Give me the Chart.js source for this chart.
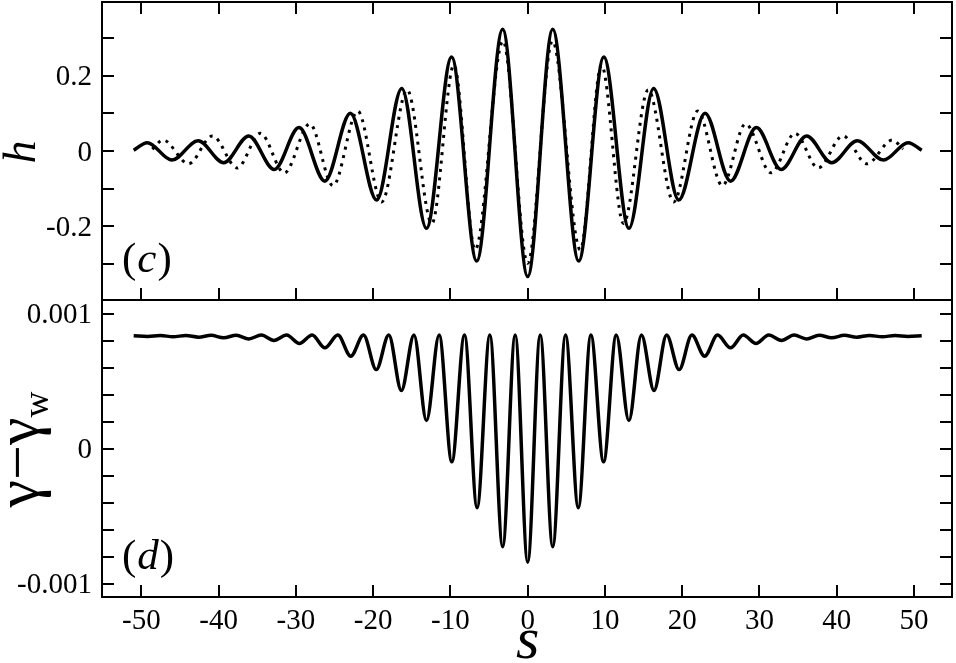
<!DOCTYPE html>
<html>
<head>
<meta charset="utf-8">
<script src="https://cdn.jsdelivr.net/npm/chart.js@4/dist/chart.umd.min.js"></script>
<style>
  html, body { margin: 0; padding: 0; background: #fff; }
  #wrap { position: relative; width: 956px; height: 663px; }
  #wrap canvas { position: absolute; left: 0; top: 0; }
</style>
</head>
<body>
<div id="wrap">
  <canvas id="panelC" width="956" height="663"></canvas>
  <canvas id="panelD" width="956" height="663"></canvas>
</div>
<script>
/* two stacked panels: h(s) with solid + dotted curves, and gamma - gamma_w */

// panel (c): solid curve, extrema
var sSolid = [-51, -49.25, -46.05, -42.65, -39.35, -36.1, -32.8, -29.6, -26.25, -22.95, -19.55, -16.3, -13.1, -9.85, -6.6, -3.24,
  0, 3.24, 6.6, 9.85, 13.1, 16.3, 19.55, 22.95, 26.25, 29.6, 32.8, 36.1, 39.35, 42.65, 46.05, 49.25, 51];
var hSolid = [0.002, 0.022, -0.024, 0.027, -0.031, 0.040, -0.049, 0.062, -0.080, 0.100, -0.130, 0.166, -0.205, 0.249, -0.292, 0.323,
  -0.333, 0.323, -0.292, 0.249, -0.205, 0.166, -0.130, 0.100, -0.080, 0.062, -0.049, 0.040, -0.031, 0.027, -0.024, 0.022, 0.002];

// panel (c): dotted curve
var sDotted = [-48.6, -47.2, -43.9, -40.8, -37.6, -34.6, -31.5, -28.2, -25.2, -22.0, -18.9, -15.6, -12.4, -9.55, -6.8, -3.2,
  0, 3.2, 6.8, 9.55, 12.4, 15.6, 18.9, 22.0, 25.2, 28.2, 31.5, 34.6, 37.6, 40.8, 43.9, 47.2, 48.6];
var hDotted = [0.005, 0.029, -0.034, 0.040, -0.045, 0.047, -0.058, 0.072, -0.092, 0.106, -0.135, 0.162, -0.192, 0.228, -0.262, 0.292,
  -0.298, 0.292, -0.262, 0.228, -0.192, 0.162, -0.135, 0.106, -0.092, 0.072, -0.058, 0.047, -0.045, 0.040, -0.034, 0.029, 0.005];

// panel (d): gamma - gamma_w
var sGamma = [-51, -49.2, -47.55, -45.9, -44.25, -42.6, -40.98, -39.35, -37.72, -36.1, -34.48, -32.85, -31.2, -29.55, -27.9,
  -26.25, -24.58, -22.9, -21.25, -19.6, -17.98, -16.35, -14.72, -13.1, -11.46, -9.82, -8.18, -6.55, -4.9, -3.24, -1.62,
  0, 1.62, 3.24, 4.9, 6.55, 8.18, 9.82, 11.46, 13.1, 14.72, 16.35, 17.98, 19.6, 21.25, 22.9, 24.58, 26.25,
  27.9, 29.55, 31.2, 32.85, 34.48, 36.1, 37.72, 39.35, 40.98, 42.6, 44.25, 45.9, 47.55, 49.2, 51];
var gGamma = [0.000835, 0.00083, 0.000837, 0.000828, 0.000837, 0.000825, 0.000838, 0.00082, 0.000839, 0.000812, 0.00084, 0.0008,
  0.00084, 0.000778, 0.00084, 0.000746, 0.00084, 0.000684, 0.00084, 0.000585, 0.00084, 0.00043, 0.00084, 0.000207, 0.00084,
  -0.0000988, 0.00084, -0.000439, 0.00084, -0.000728, 0.00084,
  -0.000842, 0.00084, -0.000728, 0.00084, -0.000439, 0.00084, -0.0000988, 0.00084, 0.000207, 0.00084, 0.00043, 0.00084,
  0.000585, 0.00084, 0.000684, 0.00084, 0.000746, 0.00084, 0.000778, 0.00084, 0.0008, 0.00084, 0.000812, 0.000839, 0.00082,
  0.000838, 0.000825, 0.000837, 0.000828, 0.000837, 0.00083, 0.000835];

// axes
var xTicks = [-50, -40, -30, -20, -10, 0, 10, 20, 30, 40, 50];
var hTicks = [-0.3, -0.2, -0.1, 0, 0.1, 0.2, 0.3];
var hLabels = [[0.2, "0.2"], [0, "0"], [-0.2, "-0.2"]];
var gTicks = [-0.001, -0.0008, -0.0006, -0.0004, -0.0002, 0, 0.0002, 0.0004, 0.0006, 0.0008, 0.001];
var gLabels = [[0.001, "0.001"], [0, "0"], [-0.001, "-0.001"]];

var SERIF = '"Liberation Serif", "Times New Roman", serif';
var TICK = 12;

function points(xs, ys) {
  return xs.map(function (x, i) { return { x: x, y: ys[i] }; });
}

function drawPanelLabel(ctx, letter, x, base) {
  ctx.font = "43px " + SERIF;
  ctx.fillText("(", x, base);
  var w = ctx.measureText("(").width;
  ctx.font = "italic 43px " + SERIF;
  ctx.fillText(letter, x + w + 1, base);
  w += ctx.measureText(letter).width + 2;
  ctx.font = "43px " + SERIF;
  ctx.fillText(")", x + w, base);
}

var framePlugin = {
  id: "frame",
  afterDraw: function (chart, args, o) {
    var ctx = chart.ctx, a = chart.chartArea, xs = chart.scales.x, ys = chart.scales.y;
    ctx.save();
    ctx.strokeStyle = "#000";
    ctx.fillStyle = "#000";
    ctx.lineWidth = 2;
    ctx.strokeRect(a.left, a.top, a.right - a.left, a.bottom - a.top);
    ctx.beginPath();
    xTicks.forEach(function (v) {
      var px = Math.round(xs.getPixelForValue(v));
      if (o.topTicks) { ctx.moveTo(px, a.top); ctx.lineTo(px, a.top + TICK); }
      ctx.moveTo(px, a.bottom); ctx.lineTo(px, a.bottom - TICK);
    });
    o.yTicks.forEach(function (v) {
      var py = Math.round(ys.getPixelForValue(v));
      ctx.moveTo(a.left, py); ctx.lineTo(a.left + TICK, py);
      ctx.moveTo(a.right, py); ctx.lineTo(a.right - TICK, py);
    });
    ctx.stroke();

    ctx.font = "29px " + SERIF;
    ctx.textAlign = "right";
    ctx.textBaseline = "middle";
    o.yLabels.forEach(function (l) {
      ctx.fillText(l[1], a.left - 10, ys.getPixelForValue(l[0]) + 2);
    });
    if (o.xLabels) {
      ctx.textAlign = "center";
      ctx.textBaseline = "alphabetic";
      xTicks.forEach(function (v) {
        ctx.fillText(String(v), xs.getPixelForValue(v), 629);
      });
      ctx.font = "italic 60px " + SERIF;
      ctx.fillText("s", xs.getPixelForValue(0), 658);
    }

    ctx.textAlign = "left";
    ctx.textBaseline = "alphabetic";
    drawPanelLabel(ctx, o.letter, 122, a.bottom - o.letterLift);

    // rotated y-axis title
    ctx.save();
    ctx.translate(o.titleX, (a.top + a.bottom) / 2 + 1);
    ctx.rotate(-Math.PI / 2);
    if (o.letter === "c") {
      ctx.font = "italic 46px " + SERIF;
      ctx.textAlign = "center";
      ctx.fillText("h", 0, 0);
    } else {
      ctx.font = "62px " + SERIF;
      var main = "\u03b3\u2212\u03b3";
      var mw = ctx.measureText(main).width;
      ctx.font = "36px " + SERIF;
      var sw = ctx.measureText("w").width;
      var x0 = -(mw + sw) / 2;
      ctx.font = "62px " + SERIF;
      ctx.fillText(main, x0, 0);
      ctx.font = "36px " + SERIF;
      ctx.fillText("w", x0 + mw, 10);
    }
    ctx.restore();
    ctx.restore();
  }
};

function baseOptions(padTop, padBottom, yMin, yMax, frame) {
  return {
    responsive: false,
    animation: false,
    events: [],
    layout: { padding: { left: 102, right: 4, top: padTop, bottom: padBottom } },
    plugins: { legend: { display: false }, tooltip: { enabled: false }, frame: frame },
    scales: {
      x: { type: "linear", min: -55.1, max: 54.92, display: false },
      y: { type: "linear", min: yMin, max: yMax, display: false }
    }
  };
}

new Chart(document.getElementById("panelC"), {
  type: "line",
  data: {
    datasets: [{
      data: points(sSolid, hSolid),
      borderColor: "#000",
      borderWidth: 3.5,
      pointRadius: 0,
      cubicInterpolationMode: "monotone"
    }, {
      data: points(sDotted, hDotted),
      borderColor: "#000",
      borderWidth: 3,
      borderDash: [3, 5.5],
      pointRadius: 0,
      cubicInterpolationMode: "monotone"
    }]
  },
  options: baseOptions(2, 363, -0.3952, 0.3952,
    { topTicks: true, yTicks: hTicks, yLabels: hLabels, xLabels: false, letter: "c", letterLift: 28, titleX: 35 }),
  plugins: [framePlugin]
});

new Chart(document.getElementById("panelD"), {
  type: "line",
  data: {
    datasets: [{
      data: points(sGamma, gGamma),
      borderColor: "#000",
      borderWidth: 3.5,
      pointRadius: 0,
      cubicInterpolationMode: "monotone"
    }]
  },
  options: baseOptions(300, 66, -0.0011, 0.0011,
    { topTicks: false, yTicks: gTicks, yLabels: gLabels, xLabels: true, letter: "d", letterLift: 28, titleX: 38 }),
  plugins: [framePlugin]
});
</script>
</body>
</html>
